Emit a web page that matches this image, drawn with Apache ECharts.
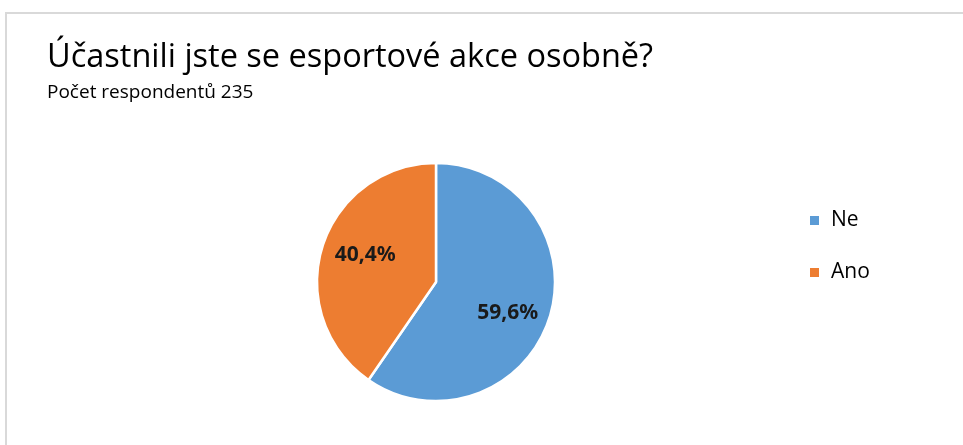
<!DOCTYPE html>
<html>
<head>
<meta charset="utf-8">
<script src="https://cdn.jsdelivr.net/npm/echarts@6/dist/echarts.min.js"></script>
<style>
  html, body { margin: 0; padding: 0; background: #ffffff; }
  #chart { width: 963px; height: 445px; }
</style>
</head>
<body>
<div id="chart"></div>
<script>
// Survey answers: share of respondents (percent)
const categories = ['Ne', 'Ano'];
const shares = [59.6, 40.4];
const sliceColors = ['#5b9bd5', '#ed7d31'];
const labelOffsets = [[12, 12], [-11, -8]];

const chart = echarts.init(document.getElementById('chart'));

const fontFamily = '"Open Sans", "Noto Sans", sans-serif';

chart.setOption({
  backgroundColor: '#ffffff',
  animation: false,
  graphic: [
    {
      type: 'polyline',
      shape: { points: [[6, 445], [6, 13], [963, 13]] },
      style: { stroke: '#d9d9d9', lineWidth: 2, fill: null }
    }
  ],
  title: {
    text: 'Účastnili jste se esportové akce osobně?',
    subtext: 'Počet respondentů 235',
    left: 42,
    top: 36,
    itemGap: 9,
    textStyle: { fontFamily, fontSize: 32.5, fontWeight: 'normal', color: '#000000' },
    subtextStyle: { fontFamily, fontSize: 19, color: '#000000' }
  },
  legend: {
    orient: 'vertical',
    left: 808,
    top: 210,
    padding: 0,
    itemWidth: 11,
    itemHeight: 11,
    itemGap: 31,
    icon: 'rect',
    data: categories,
    textStyle: { fontFamily, fontSize: 21, color: '#000000', padding: [0, 0, 0, 6] }
  },
  series: [
    {
      type: 'pie',
      center: [436, 282],
      radius: [0, 119],
      startAngle: 90,
      clockwise: true,
      itemStyle: { borderColor: '#ffffff', borderWidth: 2.5 },
      label: {
        show: true,
        position: 'inside',
        fontFamily: '"Noto Sans", sans-serif',
        fontSize: 21,
        fontWeight: 'bold',
        color: '#1a1a1a',
        formatter: p => p.value.toFixed(1).replace('.', ',') + '%'
      },
      labelLine: { show: false },
      emphasis: { disabled: true },
      data: categories.map((name, i) => ({
        name,
        value: shares[i],
        itemStyle: { color: sliceColors[i] },
        label: { offset: labelOffsets[i] }
      }))
    }
  ]
});
</script>
</body>
</html>
